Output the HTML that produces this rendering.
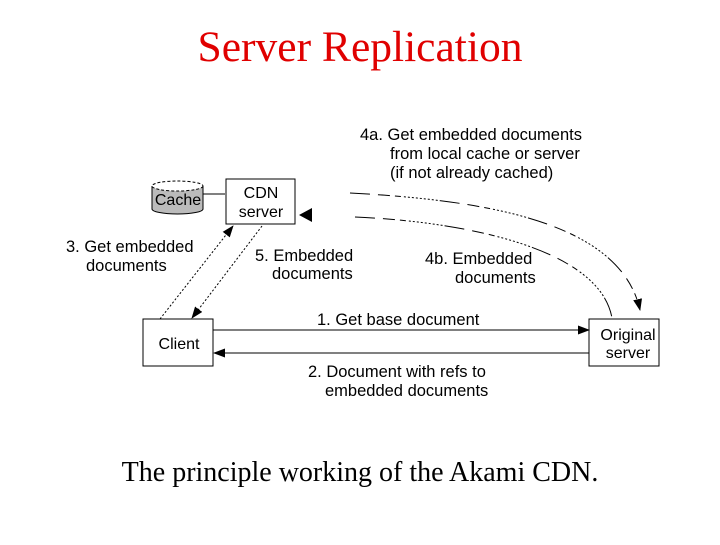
<!DOCTYPE html>
<html><head><meta charset="utf-8"><style>
body{margin:0;width:720px;height:540px;background:#fff;overflow:hidden}
</style></head><body>
<svg width="720" height="540" xmlns="http://www.w3.org/2000/svg" font-family="Liberation Sans, sans-serif">
<defs><marker id="a" markerWidth="12" markerHeight="9" refX="11" refY="4.5" orient="auto" markerUnits="userSpaceOnUse"><path d="M0,0 L12,4.5 L0,9 Z" fill="#000"/></marker></defs>
<text x="360" y="61" text-anchor="middle" font-family="Liberation Serif, serif" font-size="43.5" fill="#e00000">Server Replication</text>
<text x="360" y="481" text-anchor="middle" font-family="Liberation Serif, serif" font-size="28" fill="#000">The principle working of the Akami CDN.</text>
<path d="M152,186 L152,209 A25.5,5 0 0 0 203,209 L203,186" fill="#bbb" stroke="#000"/>
<ellipse cx="177.5" cy="186" rx="25.5" ry="5" fill="#fff" stroke="#000" stroke-dasharray="3,2"/>
<text x="178" y="205" text-anchor="middle" font-size="16">Cache</text>
<line x1="203" y1="194" x2="225" y2="194" stroke="#000"/>
<rect x="226" y="179" width="69" height="45" fill="#fff" stroke="#000"/>
<text x="261" y="198" text-anchor="middle" font-size="16">CDN</text>
<text x="261" y="217" text-anchor="middle" font-size="16">server</text>
<rect x="143" y="319" width="70" height="47" fill="#fff" stroke="#000"/>
<text x="179" y="349" text-anchor="middle" font-size="16">Client</text>
<rect x="589" y="319" width="70" height="47" fill="#fff" stroke="#000"/>
<text x="628" y="340" text-anchor="middle" font-size="16">Original</text>
<text x="628" y="358" text-anchor="middle" font-size="16">server</text>
<line x1="213" y1="330" x2="589" y2="330" stroke="#000" marker-end="url(#a)"/>
<line x1="589" y1="353" x2="214" y2="353" stroke="#000" marker-end="url(#a)"/>
<line x1="160" y1="319" x2="233" y2="226" stroke="#000" stroke-dasharray="2,2" marker-end="url(#a)"/>
<line x1="262" y1="226" x2="192" y2="318" stroke="#000" stroke-dasharray="2,2" marker-end="url(#a)"/>
<path d="M350,193 C480,200 620,220 640,310" fill="none" stroke="#000" stroke-dasharray="20,8,12,5,6,3,2,2,2,2,2,2,2,2,2,2,2,2,2,2,2,2,2,2" marker-end="url(#a)"/>
<path d="M355,217 C470,222 600,250 612,318" fill="none" stroke="#000" stroke-dasharray="20,8,12,5,6,3,2,2,2,2,2,2,2,2,2,2,2,2,2,2,2,2,2,2"/>
<path d="M312,208 L299,215 L312,222 Z" fill="#000"/>
<g font-size="16.5">
<text x="360" y="140">4a. Get embedded documents</text>
<text x="390" y="159">from local cache or server</text>
<text x="390" y="178">(if not already cached)</text>
<text x="66" y="252">3. Get embedded</text>
<text x="86" y="271">documents</text>
<text x="255" y="261">5. Embedded</text>
<text x="272" y="279">documents</text>
<text x="425" y="264">4b. Embedded</text>
<text x="455" y="283">documents</text>
<text x="317" y="325">1. Get base document</text>
<text x="308" y="377">2. Document with refs to</text>
<text x="325" y="396">embedded documents</text>
</g>
</svg>
</body></html>
